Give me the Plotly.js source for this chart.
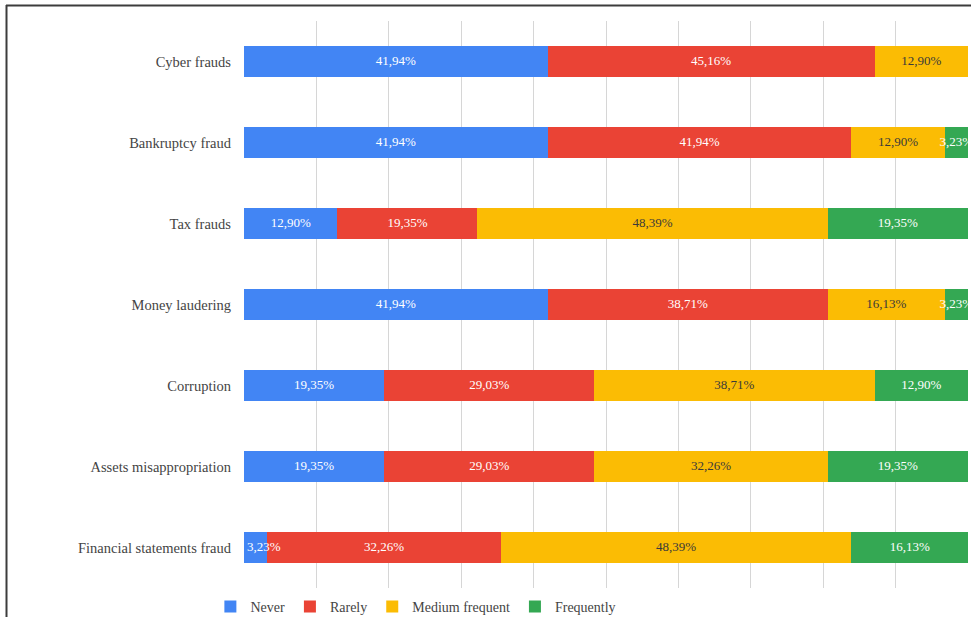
<!DOCTYPE html>
<html>
<head>
<meta charset="utf-8">
<script src="https://cdn.plot.ly/plotly-3.0.1.min.js"></script>
<style>
html,body{margin:0;padding:0;background:#fff;}
#chart{width:971px;height:617px;}
</style>
</head>
<body>
<div id="chart"></div>
<script>
const categories = ["Cyber frauds","Bankruptcy fraud","Tax frauds","Money laudering","Corruption","Assets misappropriation","Financial statements fraud"];
const seriesNames = ["Never","Rarely","Medium frequent","Frequently"];
const never      = [41.94, 41.94, 12.90, 41.94, 19.35, 19.35, 3.23];
const rarely     = [45.16, 41.94, 19.35, 38.71, 29.03, 29.03, 32.26];
const medium     = [12.90, 12.90, 48.39, 16.13, 38.71, 32.26, 48.39];
const frequently = [0,     3.23,  19.35, 3.23,  12.90, 19.35, 16.13];
const seriesValues = [never, rarely, medium, frequently];
const colors = ["#4285F4","#EA4335","#FBBC04","#34A853"];
const textColors = ["#ffffff","#ffffff","#3a3a3a","#ffffff"];

const SERIF = 'Liberation Serif, Times New Roman, serif';
const fmt = v => v > 0 ? v.toFixed(2).replace('.', ',') + '%' : '';

// bars
const barTraces = seriesValues.map((vals, i) => ({
  type: 'bar',
  orientation: 'h',
  name: seriesNames[i],
  x: vals,
  y: categories,
  marker: {color: colors[i], line: {width: 0}},
  cliponaxis: true,
  hoverinfo: 'x+name'
}));

// labels drawn above all bars (so overflowing labels are not hidden by the next segment)
const starts = categories.map(() => 0);
const labelTraces = seriesValues.map((vals, i) => {
  const xs = [], pos = [];
  vals.forEach((v, j) => {
    const s = starts[j];
    if (s === 0 && v < 6) { xs.push(s + 0.4); pos.push('middle right'); }
    else { xs.push(s + v / 2); pos.push('middle center'); }
    starts[j] = s + v;
  });
  return {
    type: 'scatter',
    mode: 'text',
    x: xs,
    y: categories,
    text: vals.map(fmt),
    textposition: pos,
    textfont: {family: SERIF, size: 13, color: textColors[i]},
    cliponaxis: true,
    showlegend: false,
    hoverinfo: 'skip'
  };
});

const layout = {
  width: 971,
  height: 617,
  margin: {l: 244, r: 3, t: 21, b: 29, pad: 0, autoexpand: false},
  paper_bgcolor: '#ffffff',
  plot_bgcolor: '#ffffff',
  barmode: 'stack',
  bargap: 0.615,
  font: {family: SERIF, size: 13, color: '#444'},
  xaxis: {
    range: [0, 100],
    dtick: 10,
    showticklabels: false,
    showgrid: true,
    gridcolor: '#d6d6d6',
    gridwidth: 1,
    zeroline: false,
    showline: false,
    ticks: ''
  },
  yaxis: {
    type: 'category',
    autorange: 'reversed',
    showgrid: false,
    zeroline: false,
    showline: false,
    ticks: '',
    ticklabelstandoff: 12,
    tickfont: {family: SERIF, size: 14.5, color: '#444'}
  },
  legend: {
    orientation: 'h',
    x: 0.2374,
    xanchor: 'center',
    y: (588 - 607) / 567,
    yanchor: 'middle',
    traceorder: 'normal',
    font: {family: SERIF, size: 14, color: '#444'},
    itemwidth: 30,
    bgcolor: 'rgba(0,0,0,0)'
  },
  shapes: [
    {type: 'line', xref: 'paper', yref: 'paper', x0: (6 - 244) / 724, x1: (971 - 244) / 724, y0: (588 - 5.5) / 567, y1: (588 - 5.5) / 567, line: {color: '#3c3c3c', width: 2}},
    {type: 'line', xref: 'paper', yref: 'paper', x0: (6.5 - 244) / 724, x1: (6.5 - 244) / 724, y0: (588 - 5) / 567, y1: (588 - 620) / 567, line: {color: '#3c3c3c', width: 2}}
  ],
  showlegend: true
};

Plotly.newPlot('chart', barTraces.concat(labelTraces), layout, {displayModeBar: false, staticPlot: true});
</script>
</body>
</html>
